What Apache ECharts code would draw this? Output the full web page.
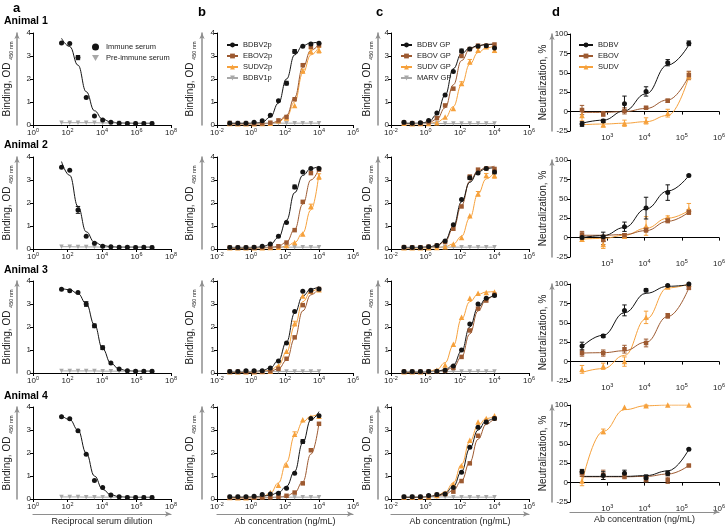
<!DOCTYPE html>
<html>
<head>
<meta charset="utf-8">
<script src="https://cdn.jsdelivr.net/npm/echarts@6.0.0/dist/echarts.min.js"></script>
<style>
  html, body { margin: 0; padding: 0; background: #fff; }
  #chart { width: 728px; height: 531px; }
</style>
</head>
<body>
<div id="chart"></div>
<script>
// ---------- x values ----------
const xSerum = [45, 135, 405, 1215, 3645, 10935, 32805, 98415, 295245, 885735, 2657205, 7971615];
const xAb = [0.0565, 0.169, 0.508, 1.52, 4.57, 13.7, 41.2, 123, 370, 1111, 3333, 10000];
const xNeut = [210, 780, 2900, 11000, 42000, 155000];

// ---------- Animal 1 ----------
const a1Imm = [3.57, 3.54, 2.93, 1.2, 0.39, 0.22, 0.12, 0.08, 0.07, 0.07, 0.07, 0.06];
const a1ImmFit = [3.77, 3.41, 2.6, 1.45, 0.62, 0.25, 0.13, 0.09, 0.08, 0.07, 0.07, 0.07];
const a1ImmErr = [0, 0, 0.09, 0.03, 0, 0, 0, 0, 0, 0, 0, 0];
const a1Pre = [0.1, 0.1, 0.1, 0.1, 0.1, 0.09, 0.09, 0.09, 0.08, 0.08, 0.08, 0.08];

const b1Bdbv = [0.08, 0.08, 0.08, 0.12, 0.18, 0.42, 1.05, 1.82, 3.2, 3.42, 3.52, 3.55];
const b1BdbvFit = [0.07, 0.07, 0.07, 0.08, 0.12, 0.35, 0.95, 2.0, 3.05, 3.45, 3.57, 3.61];
const b1BdbvErr = [0, 0, 0, 0, 0, 0, 0, 0.08, 0.08, 0, 0, 0];
const b1Ebov = [0.08, 0.06, 0.06, 0.06, 0.07, 0.1, 0.2, 0.35, 1.12, 2.6, 3.4, 3.47];
const b1EbovFit = [0.05, 0.05, 0.05, 0.05, 0.06, 0.08, 0.16, 0.42, 1.2, 2.5, 3.25, 3.52];
const b1Sudv = [0.07, 0.05, 0.05, 0.05, 0.06, 0.08, 0.18, 0.3, 0.85, 2.35, 3.2, 3.25];
const b1SudvFit = [0.05, 0.05, 0.05, 0.05, 0.05, 0.07, 0.13, 0.35, 1.0, 2.25, 3.05, 3.4];
const b1SudvErr = [0, 0, 0, 0, 0, 0, 0, 0, 0, 0.08, 0.1, 0.12];
const b1Ctrl = [0.1, 0.09, 0.09, 0.08, 0.08, 0.08, 0.08, 0.08, 0.08, 0.08, 0.08, 0.08];

const c1Bdbv = [0.12, 0.08, 0.1, 0.2, 0.52, 1.3, 2.33, 3.22, 3.3, 3.42, 3.45, 3.35];
const c1BdbvFit = [0.07, 0.07, 0.08, 0.14, 0.45, 1.3, 2.45, 3.1, 3.35, 3.45, 3.5, 3.52];
const c1BdbvErr = [0, 0, 0, 0, 0, 0, 0, 0.08, 0, 0, 0, 0];
const c1Ebov = [0.1, 0.08, 0.08, 0.12, 0.3, 0.85, 1.58, 3.0, 3.3, 3.45, 3.45, 3.5];
const c1EbovFit = [0.06, 0.06, 0.07, 0.1, 0.25, 0.75, 1.75, 2.8, 3.3, 3.45, 3.5, 3.52];
const c1Sudv = [0.08, 0.05, 0.06, 0.07, 0.1, 0.35, 0.72, 1.8, 2.75, 3.25, 3.4, 3.25];
const c1SudvFit = [0.05, 0.05, 0.05, 0.06, 0.12, 0.3, 0.8, 1.75, 2.65, 3.15, 3.35, 3.45];
const c1SudvErr = [0, 0, 0, 0, 0, 0, 0, 0.08, 0.1, 0.08, 0, 0.1];
const c1Ctrl = [0.1, 0.08, 0.07, 0.07, 0.07, 0.06, 0.06, 0.06, 0.06, 0.06, 0.06, 0.06];

const d1Bdbv = [-16, -12, 10, 26, 63, 88];
const d1BdbvFit = [-15, -11, 1, 23, 60, 86];
const d1BdbvErr = [3, 2, 10, 6, 4, 3];
const d1Ebov = [2, -3, 1, 5, 14, 47];
const d1EbovFit = [-1, -1, 0, 4, 15, 46];
const d1EbovErr = [6, 3, 4, 1, 2, 5];
const d1Sudv = [-5, -17, -15, -12, -2, 46];
const d1SudvFit = [-17, -16, -15, -13, -5, 45];
const d1SudvErr = [7, 3, 4, 4, 5, 5];

// ---------- Animal 2 ----------
const a2Imm = [3.55, 3.42, 1.7, 0.55, 0.25, 0.12, 0.1, 0.08, 0.08, 0.07, 0.08, 0.07];
const a2ImmFit = [3.8, 3.2, 1.85, 0.75, 0.3, 0.15, 0.1, 0.08, 0.08, 0.08, 0.08, 0.08];
const a2ImmErr = [0, 0, 0.15, 0, 0, 0, 0, 0, 0, 0, 0, 0];
const a2Pre = [0.1, 0.1, 0.09, 0.09, 0.09, 0.08, 0.08, 0.08, 0.08, 0.08, 0.08, 0.08];

const b2Bdbv = [0.06, 0.06, 0.07, 0.08, 0.12, 0.22, 0.55, 1.15, 2.7, 3.35, 3.5, 3.5];
const b2BdbvFit = [0.05, 0.05, 0.05, 0.06, 0.1, 0.2, 0.5, 1.25, 2.45, 3.2, 3.5, 3.6];
const b2BdbvErr = [0, 0, 0, 0, 0, 0, 0, 0, 0.08, 0, 0, 0];
const b2Ebov = [0.06, 0.05, 0.05, 0.06, 0.07, 0.08, 0.12, 0.28, 0.82, 2.05, 3.3, 3.45];
const b2EbovFit = [0.05, 0.05, 0.05, 0.05, 0.06, 0.07, 0.12, 0.3, 0.85, 1.95, 3.0, 3.5];
const b2Sudv = [0.05, 0.05, 0.05, 0.05, 0.05, 0.06, 0.08, 0.15, 0.28, 0.65, 1.85, 3.15];
const b2SudvFit = [0.04, 0.04, 0.04, 0.04, 0.05, 0.05, 0.07, 0.12, 0.28, 0.7, 1.7, 3.3];
const b2SudvErr = [0, 0, 0, 0, 0, 0, 0, 0, 0, 0, 0.1, 0.12];
const b2Ctrl = [0.08, 0.08, 0.08, 0.08, 0.08, 0.08, 0.08, 0.08, 0.08, 0.08, 0.08, 0.08];

const c2Bdbv = [0.08, 0.07, 0.07, 0.1, 0.15, 0.35, 1.05, 2.15, 3.1, 3.3, 3.5, 3.35];
const c2BdbvFit = [0.06, 0.06, 0.07, 0.09, 0.15, 0.38, 1.0, 2.05, 2.9, 3.35, 3.5, 3.55];
const c2BdbvErr = [0, 0, 0, 0, 0, 0, 0, 0, 0.08, 0, 0, 0.08];
const c2Ebov = [0.08, 0.07, 0.07, 0.1, 0.15, 0.3, 0.88, 1.85, 3.15, 3.45, 3.5, 3.48];
const c2EbovFit = [0.06, 0.06, 0.07, 0.09, 0.14, 0.33, 0.9, 1.9, 2.95, 3.4, 3.55, 3.6];
const c2Sudv = [0.05, 0.05, 0.05, 0.05, 0.07, 0.1, 0.22, 0.5, 1.45, 2.4, 3.2, 3.2];
const c2SudvFit = [0.04, 0.04, 0.04, 0.05, 0.06, 0.1, 0.22, 0.55, 1.35, 2.4, 3.05, 3.35];
const c2SudvErr = [0, 0, 0, 0, 0, 0, 0, 0, 0, 0.1, 0.08, 0.12];
const c2Ctrl = [0.08, 0.08, 0.08, 0.08, 0.08, 0.08, 0.08, 0.08, 0.08, 0.08, 0.08, 0.08];

const d2Bdbv = [0, 1, 14, 38, 58, 80];
const d2BdbvFit = [0, 2.5, 13, 37, 60, 80];
const d2BdbvErr = [2, 6, 6, 14, 10, 1];
const d2Ebov = [4, -3, 3, 10, 22, 33];
const d2EbovFit = [3, 3, 4, 9, 21, 33];
const d2EbovErr = [4, 6, 2, 3, 3, 3];
const d2Sudv = [-2, -9, 2, 15, 26, 37];
const d2SudvFit = [-2, -1, 3, 12, 25, 35];
const d2SudvErr = [3, 5, 3, 12, 2, 7];

// ---------- Animal 3 ----------
const a3Imm = [3.64, 3.58, 3.5, 3.0, 2.05, 1.1, 0.43, 0.17, 0.1, 0.08, 0.08, 0.08];
const a3ImmFit = [3.68, 3.62, 3.45, 3.02, 2.1, 1.05, 0.42, 0.17, 0.1, 0.08, 0.08, 0.08];
const a3ImmErr = [0, 0, 0, 0.1, 0.08, 0.08, 0, 0, 0, 0, 0, 0];
const a3Pre = [0.09, 0.09, 0.09, 0.09, 0.09, 0.08, 0.08, 0.08, 0.08, 0.08, 0.08, 0.08];

const b3Bdbv = [0.06, 0.06, 0.1, 0.1, 0.1, 0.22, 0.52, 1.3, 2.67, 3.55, 3.6, 3.65];
const b3BdbvFit = [0.05, 0.05, 0.05, 0.06, 0.1, 0.22, 0.55, 1.35, 2.6, 3.35, 3.65, 3.75];
const b3Ebov = [0.05, 0.05, 0.05, 0.05, 0.06, 0.08, 0.18, 0.62, 1.55, 2.95, 3.55, 3.65];
const b3EbovFit = [0.04, 0.04, 0.04, 0.05, 0.06, 0.08, 0.18, 0.55, 1.5, 2.7, 3.4, 3.7];
const b3Sudv = [0.05, 0.05, 0.05, 0.05, 0.06, 0.08, 0.3, 0.95, 2.15, 3.35, 3.55, 3.62];
const b3SudvFit = [0.04, 0.04, 0.04, 0.05, 0.07, 0.12, 0.32, 0.9, 2.05, 3.1, 3.55, 3.72];
const b3SudvErr = [0, 0, 0, 0, 0, 0, 0, 0, 0.1, 0, 0, 0];
const b3Ctrl = [0.07, 0.07, 0.07, 0.07, 0.07, 0.07, 0.07, 0.07, 0.07, 0.07, 0.07, 0.07];

const c3Bdbv = [0.06, 0.06, 0.06, 0.07, 0.08, 0.12, 0.3, 1.0, 2.13, 3.0, 3.25, 3.37];
const c3BdbvFit = [0.05, 0.05, 0.05, 0.06, 0.08, 0.14, 0.35, 0.95, 2.0, 2.85, 3.25, 3.42];
const c3Ebov = [0.05, 0.05, 0.05, 0.06, 0.07, 0.1, 0.22, 0.7, 1.85, 2.8, 3.15, 3.4];
const c3EbovFit = [0.04, 0.04, 0.05, 0.05, 0.07, 0.11, 0.25, 0.7, 1.7, 2.7, 3.2, 3.45];
const c3Sudv = [0.05, 0.05, 0.05, 0.06, 0.12, 0.35, 1.25, 2.42, 3.25, 3.47, 3.5, 3.52];
const c3SudvFit = [0.04, 0.04, 0.05, 0.07, 0.15, 0.45, 1.2, 2.35, 3.1, 3.42, 3.52, 3.55];
const c3Ctrl = [0.07, 0.07, 0.07, 0.07, 0.07, 0.07, 0.07, 0.07, 0.07, 0.07, 0.07, 0.07];

const d3Bdbv = [20, 33, 66, 92, 98, 100];
const d3BdbvFit = [19, 34, 63, 88, 97, 99];
const d3BdbvErr = [5, 2, 7, 2, 1, 0];
const d3Ebov = [11, 11, 16, 24, 59, 95];
const d3EbovFit = [11, 11.5, 14, 25, 58, 95];
const d3EbovErr = [4, 4, 5, 5, 3, 2];
const d3Sudv = [-10, -6, 0, 57, 96, 100];
const d3SudvFit = [-14, -9, 8, 55, 95, 100];
const d3SudvErr = [5, 4, 6, 8, 1, 0];

// ---------- Animal 4 ----------
const a4Imm = [3.58, 3.49, 2.97, 1.95, 0.8, 0.5, 0.17, 0.1, 0.07, 0.07, 0.07, 0.07];
const a4ImmFit = [3.65, 3.45, 3.0, 2.0, 1.0, 0.42, 0.18, 0.1, 0.08, 0.07, 0.07, 0.07];
const a4Pre = [0.09, 0.09, 0.09, 0.08, 0.08, 0.08, 0.08, 0.08, 0.08, 0.08, 0.08, 0.08];

const b4Bdbv = [0.1, 0.1, 0.1, 0.12, 0.2, 0.22, 0.25, 0.47, 1.12, 2.5, 3.5, 3.62];
const b4BdbvFit = [0.08, 0.08, 0.09, 0.1, 0.12, 0.17, 0.28, 0.55, 1.2, 2.45, 3.45, 3.8];
const b4BdbvErr = [0, 0, 0, 0, 0, 0, 0, 0, 0, 0.08, 0, 0];
const b4Ebov = [0.06, 0.06, 0.06, 0.06, 0.06, 0.07, 0.1, 0.14, 0.28, 0.68, 2.12, 3.27];
const b4EbovFit = [0.05, 0.05, 0.05, 0.05, 0.05, 0.06, 0.08, 0.13, 0.28, 0.75, 1.95, 3.3];
const b4Sudv = [0.06, 0.05, 0.05, 0.08, 0.12, 0.28, 0.6, 1.48, 2.82, 3.45, 3.55, 3.6];
const b4SudvFit = [0.05, 0.05, 0.05, 0.06, 0.1, 0.25, 0.7, 1.6, 2.75, 3.35, 3.6, 3.7];
const b4SudvErr = [0, 0, 0, 0, 0, 0, 0, 0, 0.1, 0, 0, 0];
const b4Ctrl = [0.1, 0.1, 0.09, 0.09, 0.08, 0.08, 0.08, 0.08, 0.08, 0.08, 0.08, 0.08];

const c4Bdbv = [0.1, 0.1, 0.1, 0.15, 0.2, 0.22, 0.5, 1.16, 2.25, 3.12, 3.35, 3.5];
const c4BdbvFit = [0.08, 0.08, 0.09, 0.11, 0.15, 0.25, 0.55, 1.2, 2.2, 3.0, 3.4, 3.55];
const c4Ebov = [0.08, 0.08, 0.08, 0.12, 0.18, 0.22, 0.32, 0.78, 1.55, 2.75, 3.35, 3.5];
const c4EbovFit = [0.07, 0.07, 0.08, 0.1, 0.13, 0.2, 0.38, 0.8, 1.6, 2.6, 3.25, 3.55];
const c4Sudv = [0.08, 0.08, 0.08, 0.1, 0.15, 0.25, 0.65, 1.45, 2.55, 3.35, 3.5, 3.62];
const c4SudvFit = [0.07, 0.07, 0.08, 0.1, 0.15, 0.3, 0.7, 1.5, 2.5, 3.2, 3.5, 3.6];
const c4Ctrl = [0.1, 0.1, 0.1, 0.09, 0.09, 0.09, 0.08, 0.08, 0.08, 0.08, 0.08, 0.08];

const d4Bdbv = [14, 9, 12, 6, 12, 43];
const d4BdbvFit = [8, 8, 8, 9, 15, 43];
const d4BdbvErr = [3, 5, 4, 4, 3, 1];
const d4Ebov = [12, 10, 8, 4, 3, 22];
const d4EbovFit = [7.5, 7.5, 7.5, 8, 11, 22];
const d4EbovErr = [4, 6, 3, 3, 4, 1];
const d4Sudv = [2, 66, 97, 99, 100, 100];
const d4SudvFit = [0, 66, 94, 99, 100, 100];
const d4SudvErr = [6, 3, 0, 1, 0, 0];

// ---------- styling ----------
const FONT = '"Liberation Sans", Arial, Helvetica, sans-serif';
const BLACK = '#141414', BROWN = '#9d5a31', ORANGE = '#f6a13c', GRAY = '#a8a8a8';
const DOWN = 'path://M0,0L10,0L5,8.66Z';
const SIZE = { circle: 5, rect: 4.5, triangle: 5.5 };

const COLS = [
  { left: 33, width: 138, min: 0, max: 8, step: 2, yOff: 16, yGap: 3 },
  { left: 217, width: 136, min: -2, max: 6, step: 2, yOff: 15, yGap: 5 },
  { left: 391, width: 138, min: -2, max: 6, step: 2, yOff: 13, yGap: 4 },
  { left: 570, width: 154, min: 2, max: 6, step: 1, yOff: 18, yGap: 2 }
];
const ROW_TOP = [33, 157, 281, 407];
const ROW_TOP_D = [34, 160, 284, 405];

function set(name, color, symbol, x, y, fit, err) {
  return { name, color, symbol, x, y, fit, err };
}

const panels = [
  [
    [set('Immune serum', BLACK, 'circle', xSerum, a1Imm, a1ImmFit, a1ImmErr),
     set('Pre-immune serum', GRAY, DOWN, xSerum, a1Pre)],
    [set('BDBV1p', GRAY, DOWN, xAb, b1Ctrl),
     set('SUDV2p', ORANGE, 'triangle', xAb, b1Sudv, b1SudvFit, b1SudvErr),
     set('EBOV2p', BROWN, 'rect', xAb, b1Ebov, b1EbovFit),
     set('BDBV2p', BLACK, 'circle', xAb, b1Bdbv, b1BdbvFit, b1BdbvErr)],
    [set('MARV GP', GRAY, DOWN, xAb, c1Ctrl),
     set('SUDV GP', ORANGE, 'triangle', xAb, c1Sudv, c1SudvFit, c1SudvErr),
     set('EBOV GP', BROWN, 'rect', xAb, c1Ebov, c1EbovFit),
     set('BDBV GP', BLACK, 'circle', xAb, c1Bdbv, c1BdbvFit, c1BdbvErr)],
    [set('SUDV', ORANGE, 'triangle', xNeut, d1Sudv, d1SudvFit, d1SudvErr),
     set('EBOV', BROWN, 'rect', xNeut, d1Ebov, d1EbovFit, d1EbovErr),
     set('BDBV', BLACK, 'circle', xNeut, d1Bdbv, d1BdbvFit, d1BdbvErr)]
  ],
  [
    [set('Immune serum', BLACK, 'circle', xSerum, a2Imm, a2ImmFit, a2ImmErr),
     set('Pre-immune serum', GRAY, DOWN, xSerum, a2Pre)],
    [set('BDBV1p', GRAY, DOWN, xAb, b2Ctrl),
     set('SUDV2p', ORANGE, 'triangle', xAb, b2Sudv, b2SudvFit, b2SudvErr),
     set('EBOV2p', BROWN, 'rect', xAb, b2Ebov, b2EbovFit),
     set('BDBV2p', BLACK, 'circle', xAb, b2Bdbv, b2BdbvFit, b2BdbvErr)],
    [set('MARV GP', GRAY, DOWN, xAb, c2Ctrl),
     set('SUDV GP', ORANGE, 'triangle', xAb, c2Sudv, c2SudvFit, c2SudvErr),
     set('EBOV GP', BROWN, 'rect', xAb, c2Ebov, c2EbovFit),
     set('BDBV GP', BLACK, 'circle', xAb, c2Bdbv, c2BdbvFit, c2BdbvErr)],
    [set('SUDV', ORANGE, 'triangle', xNeut, d2Sudv, d2SudvFit, d2SudvErr),
     set('EBOV', BROWN, 'rect', xNeut, d2Ebov, d2EbovFit, d2EbovErr),
     set('BDBV', BLACK, 'circle', xNeut, d2Bdbv, d2BdbvFit, d2BdbvErr)]
  ],
  [
    [set('Immune serum', BLACK, 'circle', xSerum, a3Imm, a3ImmFit, a3ImmErr),
     set('Pre-immune serum', GRAY, DOWN, xSerum, a3Pre)],
    [set('BDBV1p', GRAY, DOWN, xAb, b3Ctrl),
     set('SUDV2p', ORANGE, 'triangle', xAb, b3Sudv, b3SudvFit, b3SudvErr),
     set('EBOV2p', BROWN, 'rect', xAb, b3Ebov, b3EbovFit),
     set('BDBV2p', BLACK, 'circle', xAb, b3Bdbv, b3BdbvFit)],
    [set('MARV GP', GRAY, DOWN, xAb, c3Ctrl),
     set('SUDV GP', ORANGE, 'triangle', xAb, c3Sudv, c3SudvFit),
     set('EBOV GP', BROWN, 'rect', xAb, c3Ebov, c3EbovFit),
     set('BDBV GP', BLACK, 'circle', xAb, c3Bdbv, c3BdbvFit)],
    [set('SUDV', ORANGE, 'triangle', xNeut, d3Sudv, d3SudvFit, d3SudvErr),
     set('EBOV', BROWN, 'rect', xNeut, d3Ebov, d3EbovFit, d3EbovErr),
     set('BDBV', BLACK, 'circle', xNeut, d3Bdbv, d3BdbvFit, d3BdbvErr)]
  ],
  [
    [set('Immune serum', BLACK, 'circle', xSerum, a4Imm, a4ImmFit),
     set('Pre-immune serum', GRAY, DOWN, xSerum, a4Pre)],
    [set('BDBV1p', GRAY, DOWN, xAb, b4Ctrl),
     set('SUDV2p', ORANGE, 'triangle', xAb, b4Sudv, b4SudvFit, b4SudvErr),
     set('EBOV2p', BROWN, 'rect', xAb, b4Ebov, b4EbovFit),
     set('BDBV2p', BLACK, 'circle', xAb, b4Bdbv, b4BdbvFit, b4BdbvErr)],
    [set('MARV GP', GRAY, DOWN, xAb, c4Ctrl),
     set('SUDV GP', ORANGE, 'triangle', xAb, c4Sudv, c4SudvFit),
     set('EBOV GP', BROWN, 'rect', xAb, c4Ebov, c4EbovFit),
     set('BDBV GP', BLACK, 'circle', xAb, c4Bdbv, c4BdbvFit)],
    [set('SUDV', ORANGE, 'triangle', xNeut, d4Sudv, d4SudvFit, d4SudvErr),
     set('EBOV', BROWN, 'rect', xNeut, d4Ebov, d4EbovFit, d4EbovErr),
     set('BDBV', BLACK, 'circle', xNeut, d4Bdbv, d4BdbvFit, d4BdbvErr)]
  ]
];

// ---------- option building ----------
const pow10 = v => Number.isInteger(v) ? '{b|10}{s|' + v + '}' : '';
const SUP_RICH = {
  b: { fontSize: 8, lineHeight: 10, padding: [2, 0, 0, 0], verticalAlign: 'bottom', color: '#222' },
  s: { fontSize: 5.5, lineHeight: 6, verticalAlign: 'top', color: '#222' }
};
const NAME_RICH = {
  t: { fontSize: 10, lineHeight: 12, padding: [0, 0, 3, 0], verticalAlign: 'top', color: '#222' },
  u: { fontSize: 5.5, lineHeight: 7, verticalAlign: 'bottom', color: '#222' }
};
const X_TITLES = ['Reciprocal serum dilution', 'Ab concentration (ng/mL)', 'Ab concentration (ng/mL)', 'Ab concentration (ng/mL)'];

const grids = [], xMain = [], xExtra = [], yMain = [], yExtra = [], series = [];

for (let r = 0; r < 4; r++) {
  for (let c = 0; c < 4; c++) {
    const gi = r * 4 + c;
    const col = COLS[c];
    const isD = c === 3;
    grids.push({
      left: col.left, width: col.width,
      top: isD ? ROW_TOP_D[r] : ROW_TOP[r], height: isD ? 97 : 92,
      containLabel: false
    });

    const xBase = {
      gridIndex: gi, type: 'value', min: col.min, max: col.max, interval: col.step,
      splitLine: { show: false }
    };
    if (isD) {
      xMain.push(Object.assign({}, xBase, {
        position: 'top',
        axisLine: { show: true, onZero: true, lineStyle: { color: '#000', width: 1.2 } },
        axisTick: { show: true, inside: true, length: 3, lineStyle: { color: '#000' } },
        axisLabel: { show: false }
      }));
      xExtra.push(Object.assign({}, xBase, {
        position: 'bottom',
        axisLine: { show: false, onZero: false },
        axisTick: { show: false },
        axisLabel: { formatter: pow10, rich: SUP_RICH, margin: 1, showMinLabel: false }
      }));
    } else {
      xMain.push(Object.assign({}, xBase, {
        position: 'bottom',
        axisLine: { show: true, onZero: false, lineStyle: { color: '#000', width: 1 } },
        axisTick: { show: true, length: 3, lineStyle: { color: '#000' } },
        axisLabel: { formatter: pow10, rich: SUP_RICH, margin: 2 }
      }));
    }

    const yMin = isD ? -25 : 0, yMax = isD ? 100 : 4, yStep = isD ? 25 : 1;
    yMain.push({
      gridIndex: gi, type: 'value', position: 'left', min: yMin, max: yMax, interval: yStep,
      axisLine: { show: true, onZero: false, lineStyle: { color: '#000', width: 1 } },
      axisTick: { show: true, length: 3, lineStyle: { color: '#000' } },
      axisLabel: { fontSize: 8, color: '#222', margin: 2 },
      splitLine: { show: false }
    });
    yExtra.push({
      gridIndex: gi, type: 'value', position: 'left', offset: col.yOff, min: yMin, max: yMax,
      axisLine: { show: true, onZero: false, symbol: ['none', 'arrow'], symbolSize: [4, 6],
        lineStyle: { color: '#8e8e8e', width: 1.5 } },
      axisTick: { show: false }, axisLabel: { show: false }, splitLine: { show: false },
      name: isD ? '{t|Neutralization, %}' : '{t|Binding, OD }{u|450 nm}',
      nameLocation: 'middle', nameRotate: 90, nameGap: col.yGap,
      nameTextStyle: { rich: NAME_RICH }
    });

    panels[r][c].forEach(s => {
      const pts = s.x.map((v, i) => [Math.log10(v), s.y[i]]);
      const size = SIZE[s.symbol] || 5;
      if (s.fit) {
        series.push({
          type: 'line', name: s.name, xAxisIndex: gi, yAxisIndex: gi,
          data: s.x.map((v, i) => [Math.log10(v), s.fit[i]]),
          smooth: 0.45, smoothMonotone: 'x', showSymbol: false,
          symbol: s.symbol, symbolSize: size,
          lineStyle: { color: s.color, width: 1 }, itemStyle: { color: s.color },
          z: 2, silent: true
        });
        series.push({
          type: 'scatter', name: s.name, xAxisIndex: gi, yAxisIndex: gi, data: pts,
          symbol: s.symbol, symbolSize: size, itemStyle: { color: s.color, opacity: 1 },
          z: 4, silent: true
        });
      } else {
        series.push({
          type: 'line', name: s.name, xAxisIndex: gi, yAxisIndex: gi, data: pts,
          showSymbol: true, symbol: s.symbol, symbolSize: 4.5,
          lineStyle: { color: s.color, width: 1 }, itemStyle: { color: s.color },
          z: 3, silent: true
        });
      }
      if (s.err) {
        const col2 = s.color;
        series.push({
          type: 'custom', xAxisIndex: gi, yAxisIndex: gi, silent: true, z: 3,
          data: s.x.map((v, i) => [Math.log10(v), s.y[i], s.err[i]]).filter(d => d[2] > 0),
          encode: { x: 0, y: 1 },
          renderItem: (p, api) => {
            const x = api.value(0), y = api.value(1), e = api.value(2);
            const t = api.coord([x, y + e]), b = api.coord([x, y - e]);
            const w = 2.2;
            const st = { stroke: col2, lineWidth: 1 };
            return { type: 'group', children: [
              { type: 'line', shape: { x1: t[0], y1: t[1], x2: b[0], y2: b[1] }, style: st },
              { type: 'line', shape: { x1: t[0] - w, y1: t[1], x2: t[0] + w, y2: t[1] }, style: st },
              { type: 'line', shape: { x1: b[0] - w, y1: b[1], x2: b[0] + w, y2: b[1] }, style: st }
            ] };
          }
        });
      }
    });
  }
}

// bottom-row axis titles with arrows
for (let c = 0; c < 4; c++) {
  const col = COLS[c];
  xExtra.push({
    gridIndex: 12 + c, type: 'value', position: 'bottom', offset: c === 3 ? 10 : 15,
    min: col.min, max: col.max,
    axisLine: { show: true, onZero: false, symbol: ['none', 'arrow'], symbolSize: [4, 6],
      lineStyle: { color: '#8e8e8e', width: 1.2 } },
    axisTick: { show: false }, axisLabel: { show: false }, splitLine: { show: false },
    name: X_TITLES[c], nameLocation: 'middle', nameGap: 3,
    nameTextStyle: { fontSize: 9, color: '#222' }
  });
}

const legendBase = {
  orient: 'vertical', itemHeight: 6, itemGap: 3, selectedMode: false,
  textStyle: { fontSize: 7.5, color: '#222', lineHeight: 8 }
};
const legends = [
  Object.assign({}, legendBase, { left: 87, top: 38, itemWidth: 7, itemHeight: 7,
    data: [{ name: 'Immune serum', icon: 'circle' }, { name: 'Pre-immune serum', icon: DOWN }],
    textStyle: { fontSize: 7.5, color: '#222', lineHeight: 8, padding: [0, 0, 0, 2] } }),
  Object.assign({}, legendBase, { left: 221, top: 36, itemWidth: 11,
    data: ['BDBV2p', 'EBOV2p', 'SUDV2p', 'BDBV1p'] }),
  Object.assign({}, legendBase, { left: 395, top: 36, itemWidth: 11,
    data: ['BDBV GP', 'EBOV GP', 'SUDV GP', 'MARV GP'] }),
  Object.assign({}, legendBase, { left: 573, top: 36, itemWidth: 14,
    data: ['BDBV', 'EBOV', 'SUDV'] })
];

const txt = (text, left, top, size) => ({
  type: 'text', left, top,
  style: { text, fill: '#000', font: 'bold ' + size + 'px ' + FONT }
});

const option = {
  animation: false,
  backgroundColor: '#fff',
  textStyle: { fontFamily: FONT },
  grid: grids,
  xAxis: xMain.concat(xExtra),
  yAxis: yMain.concat(yExtra),
  legend: legends,
  series: series,
  graphic: [
    txt('a', 13, 2, 13), txt('b', 198, 6, 13), txt('c', 376, 6, 13), txt('d', 552, 6, 13),
    txt('Animal 1', 4, 16, 10.5), txt('Animal 2', 4, 140, 10.5),
    txt('Animal 3', 4, 265, 10.5), txt('Animal 4', 4, 391, 10.5)
  ]
};

const chart = echarts.init(document.getElementById('chart'), null, { renderer: 'canvas' });
chart.setOption(option);
</script>
</body>
</html>
